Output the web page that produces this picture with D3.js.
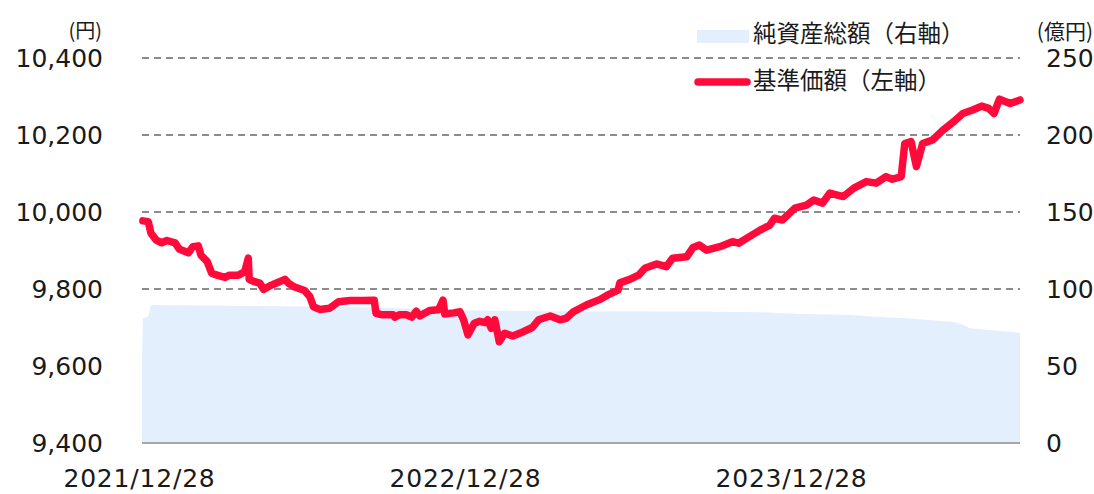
<!DOCTYPE html>
<html>
<head>
<meta charset="utf-8">
<script src="https://cdn.jsdelivr.net/npm/d3@7"></script>
<style>
  body { margin: 0; background: #fff; }
  svg { display: block; }
</style>
</head>
<body>
<div id="chart"></div>
<script>
// 基準価額（左軸）
const navDates = [
  "2021-12-29","2022-01-04","2022-01-07","2022-01-13","2022-01-19","2022-01-25","2022-02-03","2022-02-08",
  "2022-02-18","2022-02-23","2022-03-01","2022-03-04","2022-03-11","2022-03-16","2022-03-22","2022-03-31",
  "2022-04-05","2022-04-15","2022-04-22","2022-04-26","2022-04-27","2022-05-03","2022-05-09","2022-05-13",
  "2022-05-20","2022-05-27","2022-06-06","2022-06-10","2022-06-17","2022-06-28","2022-07-04","2022-07-08",
  "2022-07-15","2022-07-26","2022-08-05","2022-08-18","2022-09-01","2022-09-14","2022-09-16","2022-09-23",
  "2022-10-05","2022-10-07","2022-10-12","2022-10-20","2022-10-26","2022-10-31","2022-11-04","2022-11-15",
  "2022-11-25","2022-11-30","2022-12-02","2022-12-12","2022-12-19","2022-12-23","2022-12-28","2023-01-04",
  "2023-01-10","2023-01-16","2023-01-19","2023-01-23","2023-01-27","2023-02-01","2023-02-07","2023-02-16",
  "2023-02-28","2023-03-10","2023-03-17","2023-03-30","2023-04-10","2023-04-17","2023-04-25","2023-05-10",
  "2023-05-25","2023-06-02","2023-06-14","2023-06-16","2023-06-27","2023-07-07","2023-07-14","2023-07-27",
  "2023-08-07","2023-08-14","2023-08-30","2023-09-06","2023-09-13","2023-09-21","2023-10-06","2023-10-20",
  "2023-10-27","2023-11-08","2023-11-20","2023-12-01","2023-12-06","2023-12-15","2023-12-29","2024-01-11",
  "2024-01-19","2024-01-29","2024-02-06","2024-02-21","2024-03-04","2024-03-18","2024-03-29","2024-04-09",
  "2024-04-16","2024-04-26","2024-04-30","2024-05-07","2024-05-13","2024-05-20","2024-05-31","2024-06-12",
  "2024-06-24","2024-07-04","2024-07-15","2024-07-25","2024-08-02","2024-08-08","2024-08-14","2024-08-26",
  "2024-09-06"
];
const navValues = [
  9977, 9975, 9945, 9927, 9920, 9926, 9920, 9903,
  9894, 9910, 9912, 9888, 9871, 9841, 9836, 9830,
  9836, 9836, 9845, 9880, 9825, 9819, 9815, 9799,
  9808, 9815, 9825, 9815, 9805, 9796, 9780, 9754,
  9747, 9750, 9767, 9770, 9770, 9771, 9737, 9733,
  9733, 9727, 9733, 9733, 9727, 9742, 9730, 9744,
  9746, 9771, 9735, 9738, 9741, 9720, 9681, 9711,
  9716, 9713, 9720, 9698, 9720, 9663, 9685, 9678,
  9689, 9700, 9720, 9730, 9720, 9724, 9741, 9759,
  9773, 9784, 9797, 9816, 9825, 9836, 9854, 9865,
  9858, 9880, 9884, 9908, 9914, 9901, 9910, 9923,
  9919, 9936, 9953, 9966, 9984, 9979, 10010, 10018,
  10031, 10023, 10049, 10040, 10062, 10079, 10075, 10092,
  10085, 10092, 10178, 10183, 10118, 10178, 10187, 10213,
  10235, 10256, 10265, 10275, 10269, 10256, 10293, 10282,
  10291
];

// 純資産総額（右軸, 億円）
const assetDates = [
  "2021-12-28","2021-12-29","2022-01-04","2022-01-07","2022-04-28","2022-08-18","2022-11-04","2022-12-30",
  "2023-03-30","2023-09-13","2023-11-20","2024-01-04","2024-02-29","2024-04-02","2024-04-30","2024-05-28",
  "2024-06-25","2024-07-05","2024-07-12","2024-08-02","2024-09-06"
];
const assetValues = [
  50, 81, 82, 89.6, 89.0, 88.3, 87.0, 86.0,
  85.6, 85.4, 84.9, 83.8, 83.1, 81.8, 81.0, 79.9,
  78.4, 76.6, 74.5, 73.4, 71.6
];

const leftTicks = [9400, 9600, 9800, 10000, 10200, 10400];
const rightTicks = [0, 50, 100, 150, 200, 250];
const xTickDates = ["2021-12-28", "2022-12-28", "2023-12-28"];

const W = 1094, H = 494;
const plot = {left: 142, right: 1020, top: 58, bottom: 443};
const parse = d3.timeParse("%Y-%m-%d");

const nav = navDates.map((d, i) => ({date: parse(d), value: navValues[i]}));
const assets = assetDates.map((d, i) => ({date: parse(d), value: assetValues[i]}));

const x = d3.scaleTime()
    .domain([parse("2021-12-28"), parse("2024-09-06")])
    .range([plot.left, plot.right]);
const yL = d3.scaleLinear().domain([9400, 10400]).range([plot.bottom, plot.top]);
const yR = d3.scaleLinear().domain([0, 250]).range([plot.bottom, plot.top]);

const numFont = "'DejaVu Sans', Verdana, sans-serif";
const jpFont = "'Noto Sans CJK JP', sans-serif";

const svg = d3.select("#chart").append("svg")
    .attr("width", W)
    .attr("height", H);

// grid lines
svg.append("g")
    .selectAll("line")
    .data(leftTicks.filter(d => d !== 9400))
    .join("line")
    .attr("x1", plot.left)
    .attr("x2", plot.right)
    .attr("y1", d => yL(d))
    .attr("y2", d => yL(d))
    .attr("stroke", "#8c8c8c")
    .attr("stroke-width", 2)
    .attr("stroke-dasharray", "7,5");

// net assets area
const area = d3.area()
    .x(d => x(d.date))
    .y0(yR(0))
    .y1(d => yR(d.value));

svg.append("path")
    .datum(assets)
    .attr("d", area)
    .attr("fill", "#e3effc");

// baseline
svg.append("line")
    .attr("x1", plot.left)
    .attr("x2", plot.right)
    .attr("y1", plot.bottom)
    .attr("y2", plot.bottom)
    .attr("stroke", "#a6a6a6")
    .attr("stroke-width", 2);

// NAV line
const line = d3.line()
    .x(d => x(d.date))
    .y(d => yL(d.value));

svg.append("path")
    .datum(nav)
    .attr("d", line)
    .attr("fill", "none")
    .attr("stroke", "#ff0a3a")
    .attr("stroke-width", 7.5)
    .attr("stroke-linejoin", "round")
    .attr("stroke-linecap", "round");

// axes
const axisL = svg.append("g")
    .attr("transform", "translate(103,0)")
    .call(d3.axisLeft(yL).tickValues(leftTicks).tickFormat(d3.format(",")).tickSize(0).tickPadding(0));
const axisR = svg.append("g")
    .attr("transform", "translate(1046,0)")
    .call(d3.axisRight(yR).tickValues(rightTicks).tickSize(0).tickPadding(0));
const axisB = svg.append("g")
    .attr("transform", `translate(0,${plot.bottom})`)
    .call(d3.axisBottom(x).tickValues(xTickDates.map(parse)).tickFormat(d3.timeFormat("%Y/%m/%d")).tickSize(0).tickPadding(26));

[axisL, axisR, axisB].forEach(a => {
    a.select(".domain").remove();
    a.selectAll("text")
        .attr("fill", "#1a1a1a")
        .style("font-family", numFont)
        .style("font-size", "25px");
});
axisB.selectAll("text")
    .style("letter-spacing", "0.8px")
    .attr("dx", -3);

// unit labels
svg.append("text")
    .attr("x", 102)
    .attr("y", 33)
    .attr("text-anchor", "end")
    .attr("dominant-baseline", "middle")
    .style("font-family", jpFont)
    .style("font-size", "20px")
    .attr("fill", "#1a1a1a")
    .text("(円)");
svg.append("text")
    .attr("x", 1093)
    .attr("y", 33)
    .attr("text-anchor", "end")
    .attr("dominant-baseline", "middle")
    .style("font-family", jpFont)
    .style("font-size", "21px")
    .attr("fill", "#1a1a1a")
    .text("(億円)");

// legend
const legend = svg.append("g");
legend.append("rect")
    .attr("x", 697)
    .attr("y", 30)
    .attr("width", 52)
    .attr("height", 13)
    .attr("fill", "#e3effc");
legend.append("text")
    .attr("x", 753)
    .attr("y", 36)
    .attr("dominant-baseline", "middle")
    .style("font-family", jpFont)
    .style("font-size", "23.5px")
    .attr("fill", "#1a1a1a")
    .text("純資産総額（右軸）");
legend.append("line")
    .attr("x1", 698)
    .attr("x2", 747)
    .attr("y1", 82)
    .attr("y2", 82)
    .attr("stroke", "#ff0a3a")
    .attr("stroke-width", 7.5)
    .attr("stroke-linecap", "round");
legend.append("text")
    .attr("x", 753)
    .attr("y", 83)
    .attr("dominant-baseline", "middle")
    .style("font-family", jpFont)
    .style("font-size", "23.5px")
    .attr("fill", "#1a1a1a")
    .text("基準価額（左軸）");
</script>
</body>
</html>
